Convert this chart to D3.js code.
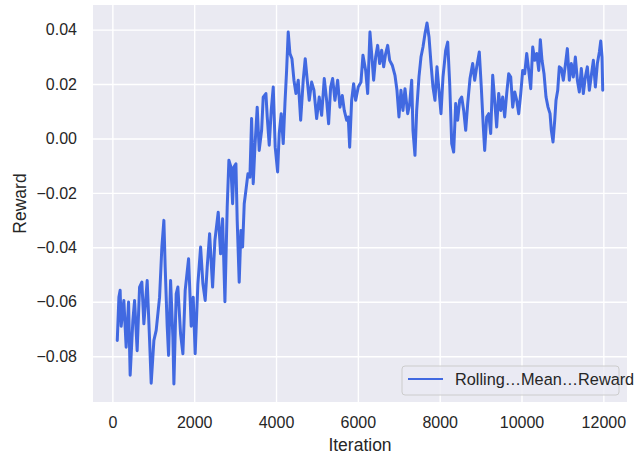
<!DOCTYPE html>
<html>
<head>
<meta charset="utf-8">
<script src="https://cdn.jsdelivr.net/npm/d3@7"></script>
<style>
  body { margin: 0; background: #ffffff; }
  text { font-family: "Liberation Sans", Arial, sans-serif; fill: #262626; }
</style>
</head>
<body>
<div id="chart"></div>
<script>
// values
var iterations = [
    120, 160, 190, 215, 281, 337, 396, 435, 501, 543,
    606, 665, 721, 770, 851, 910, 949, 1015, 1071, 1154,
    1210, 1259, 1291, 1340, 1374, 1423, 1479, 1504, 1560, 1601,
    1667, 1724, 1780, 1863, 1927, 1976, 2024, 2090, 2157, 2213,
    2269, 2318, 2377, 2450, 2506, 2587, 2645, 2694, 2751, 2807,
    2848, 2897, 2939, 2971, 3020, 3051, 3100, 3142, 3183, 3223,
    3264, 3313, 3362, 3403, 3443, 3484, 3540, 3589, 3648, 3687,
    3753, 3785, 3834, 3883, 3932, 3980, 4039, 4078, 4127, 4176,
    4218, 4259, 4298, 4340, 4389, 4438, 4487, 4543, 4602, 4665,
    4714, 4763, 4812, 4870, 4927, 4993, 5056, 5115, 5179, 5237,
    5286, 5335, 5384, 5440, 5506, 5562, 5619, 5668, 5726, 5765,
    5800, 5848, 5897, 5946, 6010, 6076, 6125, 6191, 6240, 6296,
    6337, 6386, 6435, 6484, 6533, 6582, 6631, 6680, 6729, 6778,
    6841, 6907, 6956, 7005, 7054, 7103, 7152, 7218, 7267, 7316,
    7347, 7396, 7438, 7494, 7543, 7592, 7641, 7690, 7739, 7788,
    7836, 7885, 7934, 7983, 8032, 8081, 8147, 8196, 8245, 8294,
    8342, 8391, 8440, 8489, 8538, 8587, 8636, 8685, 8741, 8807,
    8856, 8905, 8968, 9017, 9066, 9100, 9149, 9198, 9247, 9296,
    9344, 9393, 9442, 9491, 9540, 9589, 9638, 9687, 9736, 9785,
    9834, 9883, 9932, 9981, 10029, 10078, 10127, 10176, 10225, 10274,
    10323, 10372, 10421, 10460, 10501, 10550, 10599, 10648, 10697, 10729,
    10770, 10812, 10843, 10885, 10924, 10973, 11022, 11071, 11120, 11169,
    11218, 11267, 11316, 11365, 11413, 11462, 11511, 11560, 11609, 11658,
    11707, 11756, 11805, 11854, 11903, 11937, 11968, 11985
];
var rewards = [
    -0.0742, -0.0583, -0.0558, -0.0690, -0.0595, -0.0767, -0.0601, -0.0870, -0.0669, -0.0595,
    -0.0780, -0.0546, -0.0528, -0.0681, -0.0522, -0.0742, -0.0899, -0.0742, -0.0705, -0.0583,
    -0.0399, -0.0301, -0.0473, -0.0690, -0.0797, -0.0522, -0.0730, -0.0902, -0.0571, -0.0546,
    -0.0718, -0.0791, -0.0558, -0.0442, -0.0690, -0.0583, -0.0791, -0.0534, -0.0399, -0.0534,
    -0.0595, -0.0473, -0.0350, -0.0546, -0.0375, -0.0271, -0.0424, -0.0295, -0.0600, -0.0252,
    -0.0080, -0.0105, -0.0240, -0.0105, -0.0093, -0.0301, -0.0528, -0.0338, -0.0399, -0.0240,
    -0.0191, -0.0130, -0.0142, 0.0073, -0.0166, -0.0032, 0.0115, -0.0044, 0.0030, 0.0152,
    0.0165, 0.0079, -0.0025, 0.0103, 0.0189, -0.0032, -0.0123, 0.0018, 0.0091, -0.0019,
    0.0128, 0.0250, 0.0391, 0.0312, 0.0293, 0.0214, 0.0165, 0.0214, 0.0067, 0.0214,
    0.0293, 0.0214, 0.0140, 0.0207, 0.0177, 0.0073, 0.0152, 0.0085, 0.0220, 0.0140,
    0.0054, 0.0189, 0.0220, 0.0140, 0.0214, 0.0115, 0.0158, 0.0103, 0.0067, 0.0079,
    -0.0032, 0.0140, 0.0201, 0.0140, 0.0189, 0.0207, 0.0306, 0.0250, 0.0165, 0.0391,
    0.0312, 0.0214, 0.0299, 0.0342, 0.0275, 0.0324, 0.0263, 0.0312, 0.0342, 0.0287,
    0.0269, 0.0232, 0.0177, 0.0079, 0.0177, 0.0103, 0.0183, 0.0091, 0.0128, 0.0214,
    0.0030, -0.0062, 0.0103, 0.0226, 0.0299, 0.0336, 0.0385, 0.0424, 0.0373, 0.0275,
    0.0189, 0.0140, 0.0263, 0.0177, 0.0091, 0.0226, 0.0324, 0.0354, 0.0201, -0.0019,
    -0.0050, 0.0128, 0.0067, 0.0140, 0.0152, 0.0103, 0.0030, 0.0128, 0.0220, 0.0275,
    0.0214, 0.0263, 0.0318, 0.0189, 0.0042, -0.0044, 0.0079, 0.0091, 0.0018, 0.0232,
    0.0140, 0.0042, 0.0165, 0.0103, 0.0152, 0.0079, 0.0165, 0.0238, 0.0226, 0.0115,
    0.0171, 0.0140, 0.0091, 0.0165, 0.0250, 0.0238, 0.0312, 0.0250, 0.0183, 0.0336,
    0.0287, 0.0312, 0.0250, 0.0363, 0.0287, 0.0238, 0.0152, 0.0115, 0.0091, 0.0030,
    -0.0013, 0.0067, 0.0140, 0.0177, 0.0263, 0.0257, 0.0214, 0.0269, 0.0330, 0.0214,
    0.0275, 0.0226, 0.0299, 0.0214, 0.0171, 0.0257, 0.0165, 0.0226, 0.0263, 0.0177,
    0.0232, 0.0287, 0.0189, 0.0275, 0.0318, 0.0358, 0.0299, 0.0177
];
var xTicks = [0, 2000, 4000, 6000, 8000, 10000, 12000];
var yTicks = [-0.08, -0.06, -0.04, -0.02, 0.00, 0.02, 0.04];
var seriesName = "Rolling\u2026Mean\u2026Reward";

var width = 636, height = 458;
var margin = {top: 5, right: 9, bottom: 56, left: 93};
var w = width - margin.left - margin.right;
var h = height - margin.top - margin.bottom;

var data = iterations.map(function (d, i) {
    return {x: d, y: rewards[i]};
});

// matplotlib style 5% padding on both axes
var pad = function (ext) {
    var m = (ext[1] - ext[0]) * 0.05;
    return [ext[0] - m, ext[1] + m];
};

var x = d3.scaleLinear().domain(pad(d3.extent(iterations))).range([0, w]);
var y = d3.scaleLinear().domain(pad(d3.extent(rewards))).range([h, 0]);

var svg = d3.select("#chart").append("svg")
    .attr("width", width)
    .attr("height", height);

var g = svg.append("g")
    .attr("transform", "translate(" + margin.left + "," + margin.top + ")");

g.append("rect")
    .attr("width", w)
    .attr("height", h)
    .attr("fill", "#eaeaf2");

// grid
var xAxis = g.append("g")
    .attr("transform", "translate(0," + h + ")")
    .call(d3.axisBottom(x).tickValues(xTicks).tickSize(-h).tickPadding(15).tickFormat(d3.format("d")));
var yAxis = g.append("g")
    .call(d3.axisLeft(y).tickValues(yTicks).tickSize(-w).tickPadding(16)
        .tickFormat(function (d) { return d3.format(".2f")(d).replace("-", "\u2212"); }));

[xAxis, yAxis].forEach(function (axis) {
    axis.select(".domain").remove();
    axis.selectAll(".tick line")
        .attr("stroke", "#ffffff")
        .attr("stroke-width", 1.4);
    axis.selectAll(".tick text")
        .attr("fill", "#262626")
        .style("font-family", "'Liberation Sans', Arial, sans-serif")
        .style("font-size", "16px");
});

var line = d3.line()
    .x(function (d) { return x(d.x); })
    .y(function (d) { return y(d.y); });

g.append("path")
    .datum(data)
    .attr("d", line)
    .attr("fill", "none")
    .attr("stroke", "#4169e1")
    .attr("stroke-width", 3)
    .attr("stroke-linejoin", "round")
    .attr("stroke-linecap", "round");

// axis titles
svg.append("text")
    .attr("x", margin.left + w / 2)
    .attr("y", 451)
    .attr("text-anchor", "middle")
    .style("font-size", "17.5px")
    .text("Iteration");

svg.append("text")
    .attr("transform", "translate(26," + (margin.top + h / 2) + ") rotate(-90)")
    .attr("text-anchor", "middle")
    .style("font-size", "17.5px")
    .text("Reward");

// legend
var legend = svg.append("g").attr("transform", "translate(402,366)");
legend.append("rect")
    .attr("width", 217)
    .attr("height", 29)
    .attr("rx", 3)
    .attr("fill", "#eaeaf2")
    .attr("fill-opacity", 0.8)
    .attr("stroke", "#cccccc")
    .attr("stroke-width", 1);
legend.append("line")
    .attr("x1", 6).attr("x2", 41)
    .attr("y1", 13).attr("y2", 13)
    .attr("stroke", "#4169e1")
    .attr("stroke-width", 2.2);
legend.append("text")
    .attr("x", 53)
    .attr("y", 19)
    .style("font-size", "16.3px")
    .text(seriesName);
</script>
</body>
</html>
